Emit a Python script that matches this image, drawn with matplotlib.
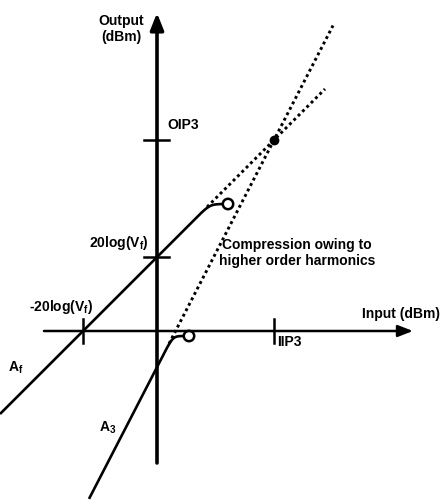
import numpy as np
import matplotlib
matplotlib.use("Agg")
import matplotlib.pyplot as plt

# ---- schematic quantities (drawing units, origin at axis crossing) ----
vf_db = 74.0            # 20log(Vf) level on output axis / -20log(Vf) on input axis
iip3 = 117.0            # input third-order intercept
slope_a1 = 1.0          # fundamental slope
slope_a3 = 1.94         # third-order slope (as drawn)
oip3 = iip3 * slope_a1 + vf_db
sat_a1 = 127.0          # compression level of fundamental
sat_a3 = -5.0           # compression level of third-order term
x_a1 = [-157.0, 66.0]   # solid A_f extent
x_a1_dot = [50.0, 168.0]
x_a3 = [-68.0, 27.0]    # solid A_3 extent
x_a3_dot = [12.0, 176.0]
circ_a1 = [71.0, 127.0]
circ_a3 = [32.0, -5.0]
xaxis_ext = [-113.0, 256.0]
yaxis_ext = [-132.0, 318.0]
tick_len = 12.0

FONT = "Liberation Sans"
W, H = 441, 504
fig = plt.figure(figsize=(W / 100, H / 100), dpi=100)
ax = fig.add_axes([0, 0, 1, 1])
ax.set_xlim(-157, W - 157)
ax.set_ylim(331 - H, 331)
ax.axis("off")

def a1(x):
    return vf_db + slope_a1 * x

def a3(x):
    return oip3 + slope_a3 * (x - iip3)

def smin(a, b, d):
    return -d * np.log(np.exp(-a / d) + np.exp(-b / d))

# axes with arrows
ax.annotate("", xy=(xaxis_ext[1] + 0, 0), xytext=(xaxis_ext[0], 0),
            arrowprops=dict(arrowstyle="-|>,head_length=0.9,head_width=0.35",
                            lw=1.8, color="black", shrinkA=0, shrinkB=0))
ax.annotate("", xy=(0, yaxis_ext[1]), xytext=(0, yaxis_ext[0]),
            arrowprops=dict(arrowstyle="-|>,head_length=1.0,head_width=0.4",
                            lw=2.6, color="black", shrinkA=0, shrinkB=0))

# ticks
for yv in [vf_db, oip3]:
    ax.plot([-tick_len - 1, tick_len], [yv, yv], color="black", lw=1.8)
for xv in [-vf_db, iip3]:
    ax.plot([xv, xv], [-tick_len, tick_len], color="black", lw=1.8)

# A_f curve
x = np.linspace(x_a1[0], x_a1[1], 400)
ax.plot(x, smin(a1(x), sat_a1, 3.0), color="black", lw=1.9, solid_capstyle="butt")
xd = np.array(x_a1_dot)
ax.plot(xd, a1(xd), color="black", lw=2.1, dashes=(1.0, 1.1))

# A_3 curve
x = np.linspace(x_a3[0], x_a3[1], 400)
ax.plot(x, smin(a3(x), sat_a3, 4.0), color="black", lw=1.9, solid_capstyle="butt")
xd = np.array(x_a3_dot)
ax.plot(xd, a3(xd), color="black", lw=2.1, dashes=(1.0, 1.1))

# circles and intercept point
for c in [circ_a1, circ_a3]:
    ax.add_patch(plt.Circle((c[0], c[1]), 5.2, fill=False, lw=1.8, color="black"))
ax.plot([iip3], [oip3], "o", color="black", ms=6)

tk = dict(fontfamily=FONT, fontweight="bold", fontsize=10, color="black")
ax.text(-36, 302, "Output\n(dBm)", ha="center", va="center", linespacing=1.25, **tk)
ax.text(10, 206, "OIP3", ha="left", va="center", **tk)
ax.text(-8, 88, r"20log(V$_\mathregular{f}$)", ha="right", va="center", **tk)
ax.text(-95.5, 24, r"-20log(V$_\mathregular{f}$)", ha="center", va="center", **tk)
ax.text(205, 17, "Input (dBm)", ha="left", va="center", **tk)
ax.text(120, -11, "IIP3", ha="left", va="center", **tk)
ax.text(-149, -37, r"A$_\mathregular{f}$", ha="left", va="center", **tk)
ax.text(-58, -97, r"A$_\mathregular{3}$", ha="left", va="center", **tk)
ax.text(140, 78, "Compression owing to\nhigher order harmonics", ha="center",
        va="center", multialignment="center", linespacing=1.2, **tk)

fig.savefig("out.png", dpi=100)
